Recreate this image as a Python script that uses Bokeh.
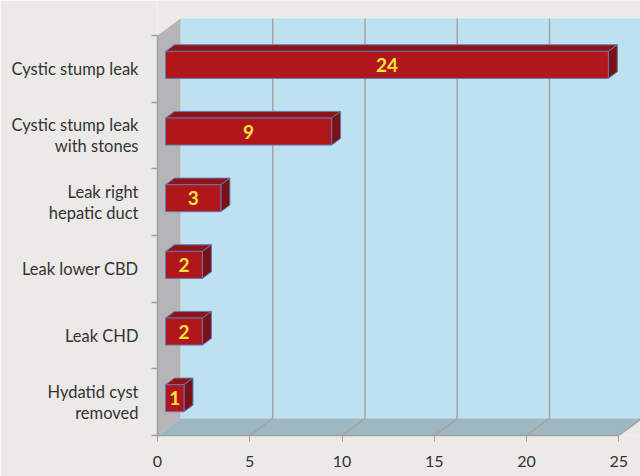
from bokeh.plotting import figure
from bokeh.models import FixedTicker
from bokeh.core.properties import value
from bokeh.embed import file_html
from bokeh.resources import INLINE

# ---- data ----
categories = ["Hydatid cyst\nremoved", "Leak CHD", "Leak lower CBD",
              "Leak right\nhepatic duct", "Cystic stump leak\nwith stones", "Cystic stump leak"]
counts = [1, 2, 2, 3, 9, 24]
x_ticks = [0, 5, 10, 15, 20, 25]
x_max = 25

# ---- layout constants (pixels -> data units) ----
SX = 18.45          # px per x unit
SY = 400 / 6        # px per category
DX = 23 / SX        # depth offset in x
DY = 17 / SY        # depth offset in y
D1, D2 = 0.35, 0.74 # bar front/back depth fractions
BAR_H = 0.405
BAR_SHIFT = -0.03
FONT = "Lato"

n = len(categories)
p = figure(width=640, height=476, output_backend="svg", toolbar_location=None,
           x_range=(0, 483 / SX), y_range=(0, 435 / SY),
           min_border_left=157, min_border_right=0, min_border_top=0, min_border_bottom=41)
p.background_fill_color = "#EBEAE8"
p.border_fill_color = "#EBEAE8"
p.outline_line_color = None
p.grid.visible = False

# back wall
p.quad(left=DX, right=x_max + DX, bottom=DY, top=n + DY, fill_color="#BEE1EF", line_color=None)
# back wall grid
gx = [t + DX for t in x_ticks[1:]]
p.segment(x0=gx, y0=[DY] * len(gx), x1=gx, y1=[n + DY] * len(gx), line_color="#A3A3A3", line_width=1.5)
# floor
p.patch([0, x_max, x_max + DX, DX], [0, 0, DY, DY], fill_color="#9DB8C1", line_color=None)
p.segment(x0=x_ticks[1:], y0=[0] * 5, x1=[t + DX for t in x_ticks[1:]], y1=[DY] * 5,
          line_color="#A3A3A3", line_width=1.5)
# side wall
p.patch([0, 0, DX, DX], [0, n, n + DY, DY], fill_color="#B5B5B7", line_color=None)

# bars
front_l, front_r, front_b, front_t = [], [], [], []
top_xs, top_ys, side_xs, side_ys = [], [], [], []
lab_x, lab_y, lab_t = [], [], []
for i, v in enumerate(counts):
    c = i + 0.5 + BAR_SHIFT
    yb, yt = c - BAR_H / 2, c + BAR_H / 2
    x1, y1 = D1 * DX, D1 * DY
    x2, y2 = D2 * DX, D2 * DY
    front_l.append(x1); front_r.append(v + x1)
    front_b.append(yb + y1); front_t.append(yt + y1)
    top_xs.append([x1, v + x1, v + x2, x2])
    top_ys.append([yt + y1, yt + y1, yt + y2, yt + y2])
    side_xs.append([v + x1, v + x1, v + x2, v + x2])
    side_ys.append([yb + y1, yt + y1, yt + y2, yb + y2])
    lab_x.append(v / 2 + x1); lab_y.append(c + y1); lab_t.append(str(v))

edge = "#6577B3"
p.patches(top_xs, top_ys, fill_color="#8E1418", line_color=edge, line_width=1)
p.patches(side_xs, side_ys, fill_color="#7A1115", line_color=edge, line_width=1)
p.quad(left=front_l, right=front_r, bottom=front_b, top=front_t,
       fill_color="#B1161B", line_color=edge, line_width=1)
p.text(x=lab_x, y=lab_y, text=lab_t, text_align="center", text_baseline="middle",
       text_color="#F8E33C", text_font=value(FONT), text_font_size="19px",
       text_font_style="bold")

# x axis
p.xaxis.ticker = FixedTicker(ticks=x_ticks)
p.xaxis.bounds = (0, x_max)
p.xaxis.axis_line_color = "#A0A0A0"
p.xaxis.axis_line_width = 1.5
p.xaxis.major_tick_line_color = "#A0A0A0"
p.xaxis.major_tick_out = 6
p.xaxis.major_tick_in = 0
p.xaxis.minor_tick_line_color = None
p.xaxis.major_label_text_font = FONT
p.xaxis.major_label_text_font_size = "16px"
p.xaxis.major_label_text_color = "#333333"
p.xaxis.major_label_standoff = 14

# y axis: labels at category centres, boundary ticks as minor ticks
centres = [i + 0.5 for i in range(n)]
p.yaxis.ticker = FixedTicker(ticks=centres, minor_ticks=list(range(n + 1)))
p.yaxis.bounds = (0, n)
p.yaxis.axis_line_color = "#A0A0A0"
p.yaxis.axis_line_width = 1.5
p.yaxis.major_tick_line_color = None
p.yaxis.major_tick_out = 0
p.yaxis.major_tick_in = 0
p.yaxis.minor_tick_line_color = "#A0A0A0"
p.yaxis.minor_tick_line_width = 1.5
p.yaxis.minor_tick_out = 6
p.yaxis.minor_tick_in = 0
p.yaxis.major_label_overrides = {c: lab for c, lab in zip(centres, categories)}
p.yaxis.major_label_text_font = FONT
p.yaxis.major_label_text_font_size = "16.5px"
p.yaxis.major_label_text_color = "#333333"
p.yaxis.major_label_text_line_height = 1.05
p.yaxis.major_label_standoff = 13

open("out.html", "w").write(file_html(p, INLINE))
